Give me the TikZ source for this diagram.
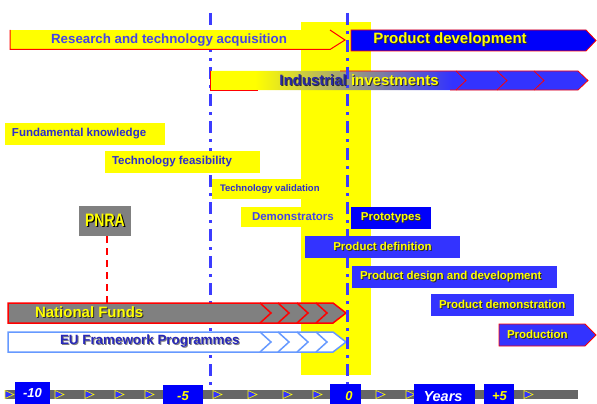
\documentclass[tikz,border=0pt]{standalone}
\usepackage{fontspec}
\setmainfont{Liberation Sans}
\definecolor{yel}{RGB}{255,255,0}
\definecolor{bluA}{RGB}{0,0,250}
\definecolor{bluB}{RGB}{51,51,255}
\definecolor{tblue}{RGB}{45,45,205}
\definecolor{tblueL}{RGB}{68,68,232}
\definecolor{indblue}{RGB}{40,40,165}
\definecolor{eutext}{RGB}{40,40,185}
\definecolor{gryA}{RGB}{128,128,128}
\definecolor{axgray}{RGB}{102,102,102}
\definecolor{eublue}{RGB}{102,153,255}
\definecolor{lineblue}{RGB}{60,60,255}
\definecolor{shd}{RGB}{45,45,45}
\pgfdeclarehorizontalshading{indshade}{100bp}{color(0bp)=(yel); color(31bp)=(yel); color(57bp)=(bluB); color(100bp)=(bluB)}
\newcommand\mysh[3]{\makebox[0pt][l]{\hspace*{1pt}\raisebox{-1pt}{\textcolor{#2}{#3}}}\textcolor{#1}{#3}}
\newcommand\myshB[3]{\makebox[0pt][l]{\hspace*{1.6pt}\raisebox{-1.6pt}{\textcolor{#2}{#3}}}\textcolor{#1}{#3}}
\begin{document}
\begin{tikzpicture}[x=1pt,y=-1pt,
  every node/.style={inner sep=0pt, outer sep=0pt},
  fillbox/.style={anchor=north west},
  ytxt/.style={anchor=west, text=tblue, font=\bfseries\fontsize{11.5}{13}\selectfont},
  btxt/.style={font=\bfseries\fontsize{11.5}{13}\selectfont},
  vline/.style={draw=lineblue, line width=3pt, dash pattern=on 12pt off 6pt on 3pt off 6pt},
  chev/.style={line width=1.5pt},
  axtri/.style={fill=bluB, draw=yel, line width=0.6pt},
  axlab/.style={fill=bluA, anchor=north west},
  axtxt/.style={anchor=base, font=\bfseries\itshape\fontsize{13}{15}\selectfont},
]
\useasboundingbox (0,0) rectangle (597,404);
% yellow band
\fill[yel] (301,22) rectangle (371,375);
% left vertical line
\coordinate (lt) at (210,13); \coordinate (lb) at (210,390);
\draw[vline] (lt) -- (lb);

% Research and technology acquisition
\fill[yel] (10,30) rectangle (330,49.5);
\draw[red, line width=1pt] (10,30) -- (10,49.5) -- (330,49.5) -- (345,40) -- (330,30);
\node[text=tblueL, font=\bfseries\fontsize{13.3}{15}\selectfont] (rta) at (169,40) {Research and technology acquisition};

% Product development
\filldraw[fill=bluA, draw=red, line width=0.8pt] (351,30) -- (586,30) -- (596,40.5) -- (586,51) -- (351,51) -- cycle;
\node[font=\bfseries\fontsize{15}{17}\selectfont] (pdev) at (450,40) {\mysh{yel}{shd}{Product development}};

% Industrial investments
\path[shading=indshade] (210,71) -- (578,71) -- (588,80.5) -- (578,90) -- (210,90) -- cycle;
\draw[red, line width=0.8pt] (210,71) -- (210,90) -- (258,90);
\draw[red, line width=0.8pt] (340,71) -- (578,71) -- (588,80.5) -- (578,90) -- (450,90);
\foreach \b in {456,497,534} {\draw[red, line width=0.8pt] (\b,71) -- (\b+10,80.5) -- (\b,90);}

% yellow boxes
\node[fillbox, fill=yel, minimum width=160pt, minimum height=22pt] (fkbox) at (5,123) {};
\node[ytxt] (fk) at ([xshift=7pt]fkbox.west) {Fundamental knowledge};
\node[fillbox, fill=yel, minimum width=155pt, minimum height=22pt] (tfbox) at (105,151) {};
\node[ytxt] (tf) at ([xshift=7pt]tfbox.west) {Technology feasibility};
\node[fillbox, fill=yel, minimum width=121pt, minimum height=20pt] (tvbox) at (212,179) {};
\node[ytxt, font=\bfseries\fontsize{9.5}{11}\selectfont] (tv) at ([xshift=8pt]tvbox.west) {Technology validation};
\node[fillbox, fill=yel, minimum width=100pt, minimum height=20pt] (dmbox) at (241,207) {};
\node[ytxt, text=tblueL] (dm) at ([xshift=11pt]dmbox.west) {Demonstrators};

% PNRA
\node[fillbox, fill=gryA, minimum width=52pt, minimum height=30pt, font=\bfseries\fontsize{18}{20}\selectfont] (pnra) at (79,206) {\scalebox{0.78}[1]{\myshB{yel}{black}{PNRA}}};
\coordinate (nftop) at (107,303);
\draw[red, line width=2pt, dash pattern=on 7pt off 5pt] (pnra.south -| nftop) -- (nftop);

% National Funds
\filldraw[fill=gryA, draw=red, line width=1.5pt] (8,303) -- (333,303) -- (346,313) -- (333,323) -- (8,323) -- cycle;
\foreach \b in {260,278,297,316} {\draw[red, chev] (\b,303) -- (\b+11,313) -- (\b,323);}
\node[anchor=west, font=\bfseries\fontsize{15}{17}\selectfont] (nf) at (35,313) {\mysh{yel}{shd}{National Funds}};

% EU Framework Programmes
\filldraw[fill=white, draw=eublue, line width=1.5pt] (8,332) -- (333,332) -- (346,342) -- (333,352) -- (8,352) -- cycle;
\foreach \b in {260,278,297,316} {\draw[eublue, chev] (\b,332) -- (\b+11,342) -- (\b,352);}
\node[anchor=west, font=\bfseries\fontsize{13.4}{15}\selectfont] (eu) at (60,342) {\mysh{eutext}{gryA}{EU Framework Programmes}};

% right vertical line
\coordinate (rt) at (347,13); \coordinate (rb) at (347,390);
\draw[vline] (rt) -- (rb);

% Industrial investments text
\node[font=\bfseries\fontsize{15}{17}\selectfont] (ii) at (359,81) {\mysh{indblue}{shd}{Industrial} \mysh{yel}{shd}{investments}};

% blue boxes
\node[fillbox, fill=bluA, minimum width=80pt, minimum height=22pt, btxt] (proto) at (351,207) {\mysh{yel}{shd}{Prototypes}};
\node[fillbox, fill=bluB, minimum width=155pt, minimum height=22pt, btxt] (pdef) at (305,236) {\mysh{yel}{shd}{Product definition}};
\node[fillbox, fill=bluB, minimum width=205pt, minimum height=22pt] (pddbox) at (352,266) {};
\node[anchor=west, btxt] (pdd) at ([xshift=8pt]pddbox.west) {\mysh{yel}{shd}{Product design and development}};
\node[fillbox, fill=bluB, minimum width=143pt, minimum height=22pt] (pdembox) at (431,294) {};
\node[anchor=west, btxt] (pdem) at ([xshift=8pt]pdembox.west) {\mysh{yel}{shd}{Product demonstration}};
\filldraw[fill=bluB, draw=red, line width=0.8pt] (499,324) -- (585,324) -- (596,335) -- (585,346) -- (499,346) -- cycle;
\node[anchor=west, btxt] (prod) at (507,335) {\mysh{yel}{shd}{Production}};

% time axis
\fill[axgray] (5,390) rectangle (578,399);
\foreach \t in {5,55,85,115,145,213,248,283,313,376,406,524} {\filldraw[axtri] (\t,390.5) -- (\t+9,394.5) -- (\t,398.5) -- cycle;}
\node[axlab, minimum width=35pt, minimum height=22pt] (m10box) at (15,382) {};
\node[axtxt, text=white] (m10) at (32.5,397.5) {-10};
\node[axlab, minimum width=40pt, minimum height=19pt] (m5box) at (163,385) {};
\node[axtxt, text=yel] (m5) at (183,400) {-5};
\node[axlab, minimum width=31pt, minimum height=20pt] (zbox) at (330,384) {};
\node[axtxt, text=yel] (z) at (349,400) {0};
\node[axlab, minimum width=61pt, minimum height=20pt] (yrbox) at (414,384) {};
\node[axtxt, text=white, font=\bfseries\itshape\fontsize{14.5}{16}\selectfont] (yr) at (443,401.5) {Years};
\node[axlab, minimum width=30pt, minimum height=20pt] (p5box) at (484,384) {};
\node[axtxt, text=yel] (p5) at (499.5,400) {+5};
\end{tikzpicture}
\end{document}
